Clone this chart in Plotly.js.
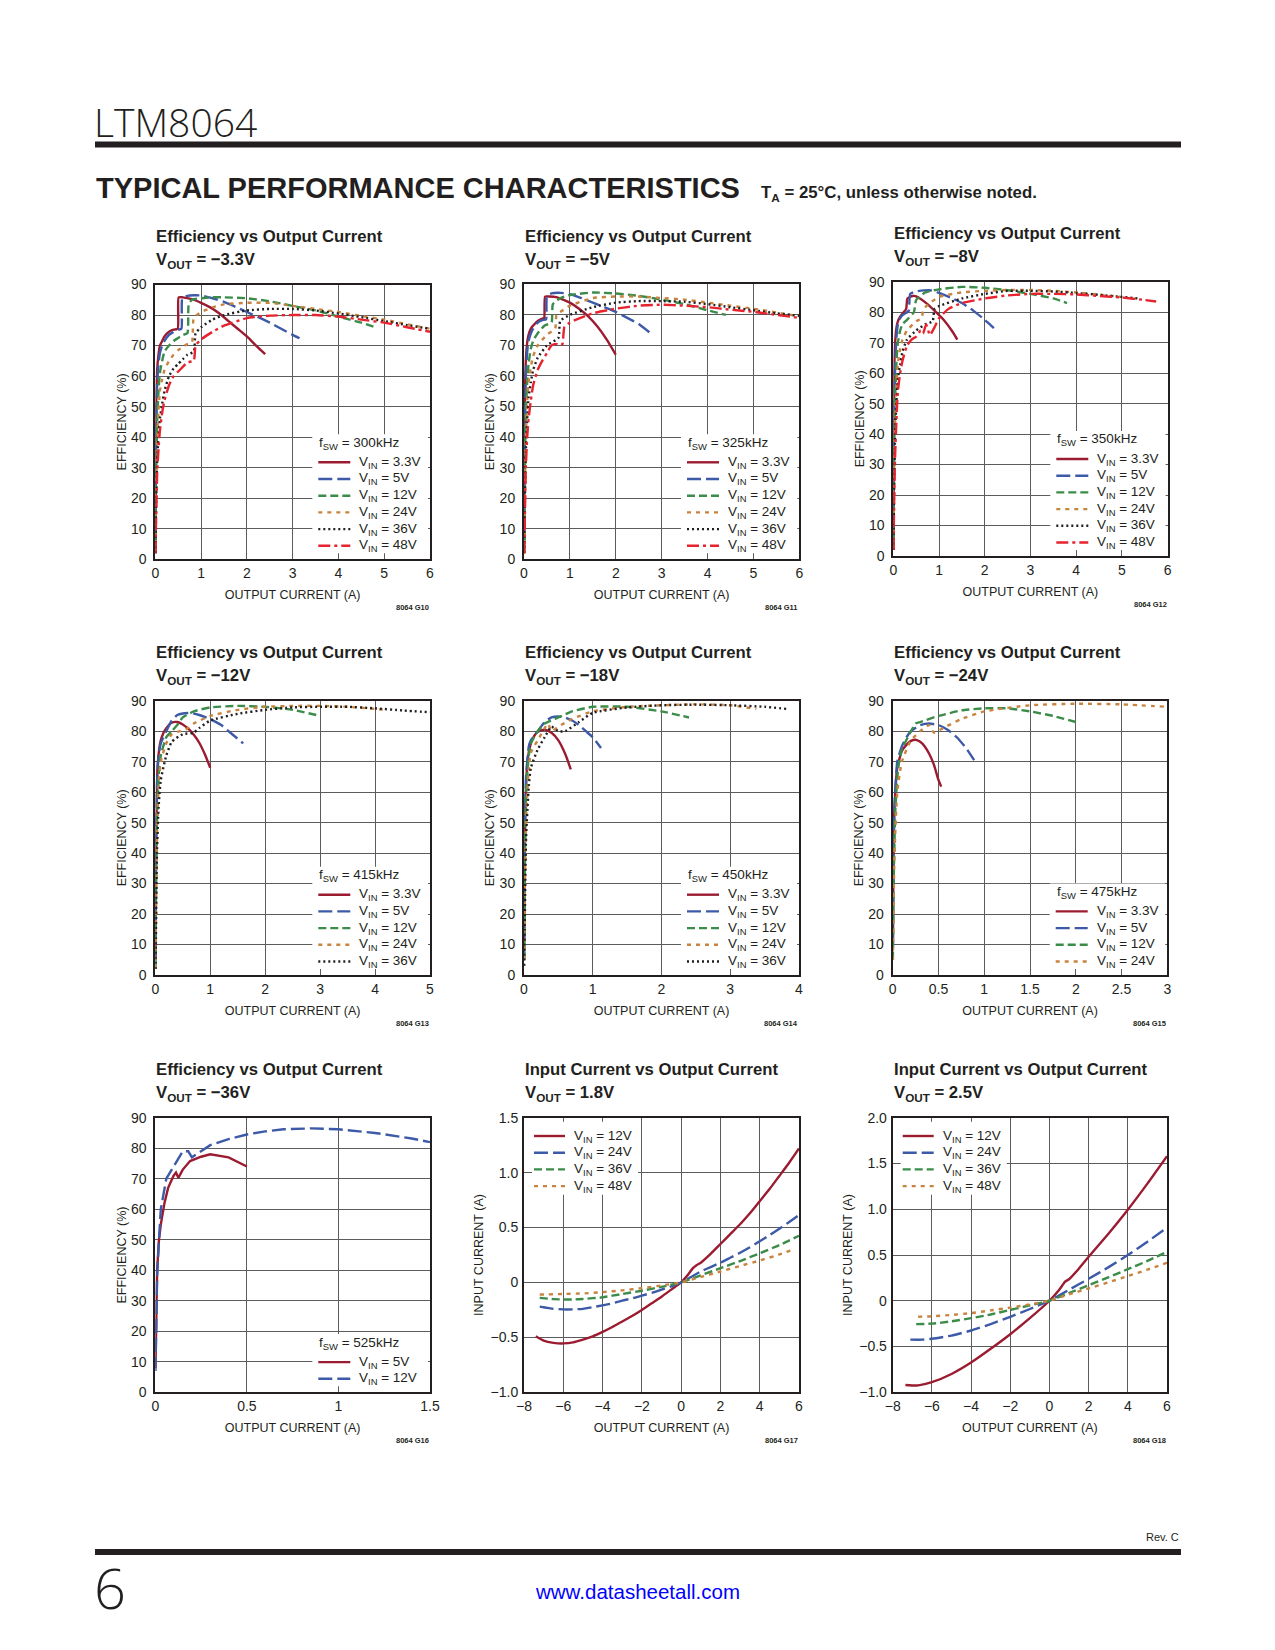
<!DOCTYPE html>
<html><head><meta charset="utf-8">
<script src="https://cdn.plot.ly/plotly-3.0.1.min.js"></script>
<style>html,body{margin:0;padding:0;background:#fff}#chart{width:1275px;height:1650px}</style>
</head><body><div id="chart"></div>
<script>
// ---------------- DATA ----------------
// Legend labels
const eff6Labels = ['V<sub>IN</sub> = 3.3V','V<sub>IN</sub> = 5V','V<sub>IN</sub> = 12V','V<sub>IN</sub> = 24V','V<sub>IN</sub> = 36V','V<sub>IN</sub> = 48V'];
const eff5Labels = ['V<sub>IN</sub> = 3.3V','V<sub>IN</sub> = 5V','V<sub>IN</sub> = 12V','V<sub>IN</sub> = 24V','V<sub>IN</sub> = 36V'];
const eff4Labels = ['V<sub>IN</sub> = 3.3V','V<sub>IN</sub> = 5V','V<sub>IN</sub> = 12V','V<sub>IN</sub> = 24V'];
const eff2Labels = ['V<sub>IN</sub> = 5V','V<sub>IN</sub> = 12V'];
const inLabels = ['V<sub>IN</sub> = 12V','V<sub>IN</sub> = 24V','V<sub>IN</sub> = 36V','V<sub>IN</sub> = 48V'];
const voutLabels = ['−3.3V','−5V','−8V','−12V','−18V','−24V','−36V','1.8V','2.5V'];
const fswLabels = ['300kHz','325kHz','350kHz','415kHz','450kHz','475kHz','525kHz'];
const figIds = ['8064 G10','8064 G11','8064 G12','8064 G13','8064 G14','8064 G15','8064 G16','8064 G17','8064 G18'];
const in17TickVals = [-1,-0.5,0,0.5,1,1.5];
const in17TickText = ['−1.0','−0.5','0','0.5','1.0','1.5'];
const in18TickVals = [-1,-0.5,0,0.5,1,1.5,2];
const in18TickText = ['−1.0','−0.5','0','0.5','1.0','1.5','2.0'];

// G10  VOUT = -3.3V
const g10_x_v33 = [0.005,0.01,0.02,0.04,0.07,0.1,0.15,0.2,0.3,0.4,0.49,0.51,0.6,0.8,1.0,1.2,1.4,1.6,1.8,2.0,2.2,2.4];
const g10_y_v33 = [5,30,50,62,67,70,71.5,73,74.5,75.2,75.5,85.8,85.8,85.2,84,82.5,80.5,78,75.5,73,70,67.2];
const g10_x_v5 = [0.005,0.01,0.02,0.04,0.07,0.1,0.15,0.2,0.3,0.4,0.5,0.57,0.59,0.7,0.85,1.0,1.25,1.5,1.75,2.0,2.25,2.5,2.75,3.0,3.15];
const g10_y_v5 = [3,25,42,57,64,67.5,70,71.5,73.5,74.5,75.2,75.5,85.5,86.3,86.5,86.4,85.5,84.3,82.7,81,79.3,77.5,75.5,73.5,72.4];
const g10_x_v12 = [0.005,0.01,0.02,0.04,0.07,0.1,0.15,0.2,0.3,0.4,0.5,0.6,0.7,0.73,0.8,1.0,1.25,1.5,2.0,2.5,3.0,3.5,4.0,4.5,4.8];
const g10_y_v12 = [2,15,30,45,55,61,65,68,70,71.5,72.5,73.5,74,83.5,85,85.5,85.8,85.8,85.5,84.5,83,81.5,79.5,77.5,76];
const g10_x_v24 = [0.005,0.01,0.02,0.04,0.07,0.1,0.15,0.2,0.3,0.4,0.5,0.6,0.7,0.8,0.84,1.0,1.25,1.5,2.0,2.5,3.0,3.5,4.0,4.5,5.0,5.5,6.0];
const g10_y_v24 = [2,12,25,38,48,55,59,62,65,67,68.5,69.5,70.5,71,79,81,82.5,83.5,84,84,83,82,81,79.7,78.5,77,75.5];
const g10_x_v36 = [0.005,0.01,0.02,0.04,0.07,0.1,0.15,0.2,0.3,0.4,0.5,0.6,0.7,0.84,0.88,1.0,1.25,1.5,2.0,2.5,3.0,3.5,4.0,4.5,5.0,5.5,6.0];
const g10_y_v36 = [2,10,20,32,40,46,51,55,60,62.5,64,65.5,67,68,74,76,78.5,80,81.5,82,82,81.5,80.5,79.3,78,76.7,75.5];
const g10_x_v48 = [0.005,0.01,0.02,0.04,0.07,0.1,0.15,0.2,0.3,0.4,0.5,0.6,0.7,0.84,0.88,1.0,1.25,1.5,2.0,2.5,3.0,3.5,4.0,4.5,5.0,5.5,6.0];
const g10_y_v48 = [2,8,15,28,36,42,48,52,57,60,61.5,63,64.5,65,70,72,74.5,76.5,79,79.8,80,80,79.5,78.5,77.5,76,74.5];

// G11  VOUT = -5V
const g11_x_v33 = [0.005,0.01,0.02,0.04,0.07,0.1,0.15,0.2,0.3,0.4,0.44,0.46,0.55,0.7,0.85,1.0,1.2,1.4,1.6,1.8,2.0];
const g11_y_v33 = [5,30,52,65,71,73.5,75.5,76.5,78,78.8,79,86,86,85.8,85,84,82,79.5,76.2,72,67];
const g11_x_v5 = [0.005,0.01,0.02,0.04,0.07,0.1,0.15,0.2,0.3,0.4,0.48,0.5,0.6,0.8,1.0,1.25,1.5,1.75,2.0,2.25,2.5,2.8];
const g11_y_v5 = [3,25,42,60,68,71.5,74,75.5,77.5,78.3,78.5,86,87,87.2,86.8,85.5,84,82.5,81,79,77,73.5];
const g11_x_v12 = [0.005,0.01,0.02,0.04,0.07,0.1,0.15,0.2,0.3,0.45,0.6,0.63,0.8,1.0,1.5,2.0,2.5,3.0,3.5,4.0,4.4];
const g11_y_v12 = [2,15,32,48,58,64,69,71.5,74,76.5,77.5,83.5,85.5,86.5,87.3,87,86.2,85,83.5,81.5,80];
const g11_x_v24 = [0.005,0.01,0.02,0.04,0.07,0.1,0.15,0.2,0.3,0.5,0.68,0.71,0.9,1.0,1.5,2.0,2.5,3.0,3.5,4.0,4.5,5.0,5.5,6.0];
const g11_y_v24 = [2,12,25,40,52,58,63,66.5,70,73.5,75.5,80,82,83,85.5,86,86,85.5,85,84,83,82,80.8,79.5];
const g11_x_v36 = [0.005,0.01,0.02,0.04,0.07,0.1,0.15,0.2,0.3,0.5,0.75,0.79,1.0,1.5,2.0,2.5,3.0,3.5,4.0,4.5,5.0,5.5,6.0];
const g11_y_v36 = [2,10,20,35,46,53,58,62,66,70,72.5,78,80,82.5,84,84.5,84.5,84.3,83.5,82.5,81.5,80.5,79.7];
const g11_x_v48 = [0.005,0.01,0.02,0.04,0.07,0.1,0.15,0.2,0.3,0.4,0.5,0.6,0.7,0.8,0.84,0.88,1.0,1.5,2.0,2.5,3.0,3.5,4.0,4.5,5.0,5.5,6.0];
const g11_y_v48 = [2,8,15,30,40,46,52,57,62,65,67.5,70,70.5,70,70.5,76,77.5,80.5,82,83,83.3,83,82.5,81.7,81,80,79];

// G12  VOUT = -8V
const g12_x_v33 = [0.005,0.01,0.02,0.04,0.07,0.1,0.15,0.2,0.28,0.31,0.42,0.5,0.7,0.9,1.1,1.3,1.4];
const g12_y_v33 = [5,35,60,70,75,77,78.5,79.5,81,84.5,85.3,85.2,83.2,80.5,77.5,73.5,71];
const g12_x_v5 = [0.005,0.01,0.02,0.04,0.07,0.1,0.15,0.2,0.3,0.34,0.37,0.5,0.8,1.0,1.25,1.5,1.75,2.0,2.2];
const g12_y_v5 = [3,25,45,62,72,76,78,79,80,80.5,86,86.8,87.2,86.3,84.8,83,80.5,77.5,74.8];
const g12_x_v12 = [0.005,0.01,0.02,0.04,0.07,0.1,0.15,0.2,0.3,0.45,0.5,0.7,1.0,1.5,2.0,2.5,3.0,3.5,3.8];
const g12_y_v12 = [2,15,35,52,64,70,74,76,77.5,80,84,86.5,87.5,88.3,88,87.2,86,84.5,83];
const g12_x_v24 = [0.005,0.01,0.02,0.04,0.07,0.1,0.15,0.2,0.3,0.5,0.62,0.66,0.8,1.0,1.5,2.0,2.5,3.0,3.5,4.0,4.5,5.0];
const g12_y_v24 = [2,12,30,45,56,63,68,71,74,77,78,81,83,85,86.5,87,87.3,87.3,87,86.5,85.8,85];
const g12_x_v36 = [0.005,0.01,0.02,0.04,0.07,0.1,0.15,0.2,0.3,0.5,0.7,0.86,0.9,1.0,1.5,2.0,2.5,3.0,3.5,4.0,4.5,5.0,5.35];
const g12_y_v36 = [2,10,25,40,51,58,63,67,71,74,76,77,81,82,84.5,86,87,87,86.8,86.3,85.7,85,84.5];
const g12_x_v48 = [0.005,0.01,0.02,0.04,0.07,0.1,0.15,0.2,0.3,0.4,0.5,0.6,0.65,0.72,0.8,0.9,1.0,1.2,1.5,2.0,2.5,3.0,3.5,4.0,4.5,5.0,5.5,5.75];
const g12_y_v48 = [2,8,20,33,45,54,60,64,69,71,72,74,73,76,72.5,75,78,81,83,84.5,85.5,86,86,85.8,85.3,84.8,84,83.5];

// G13  VOUT = -12V
const g13_x_v33 = [0.005,0.01,0.02,0.04,0.07,0.1,0.15,0.2,0.3,0.4,0.5,0.6,0.7,0.8,0.9,1.0];
const g13_y_v33 = [5,30,50,68,74,77,79.5,81,82.8,83,82.2,80.8,78.8,76.2,72.5,68];
const g13_x_v5 = [0.005,0.01,0.02,0.03,0.06,0.1,0.2,0.3,0.4,0.5,0.65,0.8,1.0,1.2,1.4,1.6];
const g13_y_v5 = [5,30,52,62,72,76,80,83.5,85.3,85.8,86,85.3,84,82,79,76];
const g13_x_v12 = [0.005,0.01,0.02,0.03,0.06,0.1,0.2,0.3,0.4,0.5,0.7,1.0,1.5,2.0,2.5,3.0];
const g13_y_v12 = [3,20,40,50,65,72,78,80,82,84.5,86.5,87.8,88.3,88,87,85];
const g13_x_v24 = [0.005,0.01,0.02,0.03,0.06,0.1,0.2,0.3,0.45,0.55,0.7,1.0,1.5,2.0,2.5,3.0,3.5,4.0,4.2];
const g13_y_v24 = [2,15,32,45,62,70,76,79,80,80.5,82.5,85,87,88,88.3,88.3,88,87.3,87];
const g13_x_v36 = [0.005,0.01,0.02,0.03,0.06,0.1,0.2,0.3,0.5,0.7,0.8,1.0,1.5,2.0,2.5,3.0,3.5,4.0,4.5,5.0];
const g13_y_v36 = [2,10,28,40,55,64,72,76.5,79,79.5,81,83.5,85.7,87,87.8,88,88,87.5,86.8,86.2];

// G14  VOUT = -18V
const g14_x_v33 = [0.003,0.01,0.02,0.05,0.1,0.15,0.2,0.3,0.4,0.5,0.6,0.68];
const g14_y_v33 = [10,40,55,70,76,78.5,79.8,80.5,79.5,77,72.5,67.5];
const g14_x_v5 = [0.003,0.01,0.03,0.07,0.1,0.2,0.3,0.4,0.5,0.6,0.7,0.8,0.9,1.0,1.12];
const g14_y_v5 = [5,40,65,75,77,80,83,84.5,84.8,84.5,83.5,82,80,78,74.5];
const g14_x_v12 = [0.003,0.01,0.03,0.07,0.1,0.2,0.3,0.5,0.7,1.0,1.5,2.0,2.4];
const g14_y_v12 = [5,30,60,72,76,80,82.5,84.5,86.5,88,88,86.5,84.5];
const g14_x_v24 = [0.003,0.01,0.03,0.07,0.1,0.2,0.3,0.35,0.4,0.5,0.7,1.0,1.5,2.0,2.5,3.0,3.38];
const g14_y_v24 = [5,25,50,68,73,77,81,82.5,80,81.5,84,86.5,88,88.5,88.8,88.5,87.3];
const g14_x_v36 = [0.003,0.01,0.03,0.07,0.1,0.2,0.3,0.4,0.5,0.6,0.8,1.0,1.5,2.0,2.5,3.0,3.5,3.82];
const g14_y_v36 = [3,15,45,62,68,74,78,81.5,80,80,83,86,87.8,88.5,88.7,88.5,88,87.3];

// G15  VOUT = -24V
const g15_x_v33 = [0.002,0.01,0.02,0.05,0.1,0.15,0.2,0.25,0.3,0.35,0.4,0.45,0.5,0.53];
const g15_y_v33 = [10,45,55,68,73.5,75.5,76.8,77.2,76.5,75,72.5,69,64,61.8];
const g15_x_v5 = [0.002,0.01,0.02,0.05,0.1,0.15,0.2,0.3,0.4,0.5,0.6,0.7,0.8,0.89];
const g15_y_v5 = [10,40,55,70,75,78,80,82,82.5,82,80.5,78,74.5,70.5];
const g15_x_v12 = [0.002,0.01,0.03,0.06,0.1,0.2,0.25,0.3,0.5,0.75,1.0,1.25,1.5,1.75,2.0];
const g15_y_v12 = [5,30,55,68,74,80,82.5,83,85,86.8,87.5,87.5,86.5,85,83];
const g15_x_v24 = [0.002,0.01,0.02,0.05,0.1,0.2,0.3,0.4,0.45,0.55,0.75,1.0,1.5,2.0,2.5,3.0];
const g15_y_v24 = [5,25,40,60,70,77,80,82,79.5,81,84,86.5,88.5,89,88.8,88];

// G16  VOUT = -36V
const g16_x_v5 = [0.001,0.005,0.01,0.02,0.03,0.05,0.07,0.1,0.113,0.126,0.15,0.19,0.25,0.3,0.4,0.5];
const g16_y_v5 = [8,25,40,50,55,62,67,71,72,70.3,73,75.8,77.2,78,77,74];
const g16_x_v12 = [0.001,0.005,0.01,0.02,0.03,0.06,0.1,0.15,0.18,0.2,0.3,0.4,0.5,0.6,0.7,0.85,1.0,1.2,1.4,1.5];
const g16_y_v12 = [7,25,38,50,60,70,74,79,79,77,81,83,84.5,85.5,86.2,86.5,86.2,85,83.2,82];

// G17  Input current, VOUT = 1.8V
const g17_x_v12 = [-7.4,-7.0,-6.5,-6.0,-5.5,-5.0,-4.5,-4.0,-3.5,-3.0,-2.5,-2.0,-1.5,-1.0,-0.5,0,0.3,0.6,0.8,1.0,1.5,2.0,2.5,3.0,3.5,4.0,4.5,5.0,5.5,6.0];
const g17_y_v12 = [-0.49,-0.53,-0.55,-0.555,-0.545,-0.52,-0.49,-0.45,-0.405,-0.355,-0.305,-0.25,-0.19,-0.13,-0.065,0,0.06,0.13,0.16,0.18,0.26,0.35,0.44,0.53,0.63,0.74,0.85,0.97,1.09,1.22];
const g17_x_v24 = [-7.2,-6.5,-6.0,-5.5,-5.0,-4.5,-4.0,-3.5,-3.0,-2.5,-2.0,-1.5,-1.0,-0.5,0,0.5,1.0,1.5,2.0,2.5,3.0,3.5,4.0,4.5,5.0,5.5,6.0];
const g17_y_v24 = [-0.22,-0.24,-0.245,-0.245,-0.24,-0.225,-0.208,-0.19,-0.165,-0.145,-0.12,-0.095,-0.065,-0.035,0,0.05,0.1,0.14,0.18,0.225,0.27,0.32,0.375,0.43,0.49,0.55,0.615];
const g17_x_v36 = [-7.2,-6.5,-6.0,-5.5,-5.0,-4.0,-3.0,-2.0,-1.0,0,1.0,2.0,3.0,4.0,5.0,6.0];
const g17_y_v36 = [-0.14,-0.152,-0.155,-0.155,-0.15,-0.135,-0.105,-0.075,-0.04,0,0.065,0.13,0.195,0.265,0.34,0.425];
const g17_x_v48 = [-7.2,-6.0,-5.0,-4.0,-3.0,-2.0,-1.0,0,1.0,2.0,3.0,4.0,5.0,5.8];
const g17_y_v48 = [-0.11,-0.105,-0.1,-0.088,-0.072,-0.052,-0.027,0,0.05,0.1,0.15,0.2,0.255,0.305];

// G18  Input current, VOUT = 2.5V
const g18_x_v12 = [-7.35,-6.7,-6.0,-5.0,-4.0,-3.0,-2.0,-1.0,0,0.5,0.8,1.0,1.5,2.0,3.0,4.0,5.0,6.0];
const g18_y_v12 = [-0.92,-0.925,-0.89,-0.8,-0.675,-0.525,-0.365,-0.19,0,0.12,0.21,0.235,0.35,0.48,0.73,0.995,1.28,1.58];
const g18_x_v24 = [-7.1,-6.5,-6.0,-5.0,-4.0,-3.0,-2.0,-1.0,0,1.0,2.0,3.0,4.0,5.0,6.0];
const g18_y_v24 = [-0.425,-0.425,-0.415,-0.38,-0.325,-0.255,-0.175,-0.09,0,0.12,0.24,0.365,0.5,0.645,0.8];
const g18_x_v36 = [-6.8,-6.0,-5.0,-4.0,-3.0,-2.0,-1.0,0,1.0,2.0,3.0,4.0,5.0,6.0];
const g18_y_v36 = [-0.255,-0.25,-0.225,-0.19,-0.15,-0.1,-0.05,0,0.085,0.17,0.255,0.345,0.435,0.535];
const g18_x_v48 = [-6.7,-6.0,-5.0,-4.0,-3.0,-2.0,-1.0,0,1.0,2.0,3.0,4.0,5.0,6.0];
const g18_y_v48 = [-0.175,-0.17,-0.155,-0.135,-0.105,-0.075,-0.04,0,0.07,0.135,0.2,0.27,0.34,0.415];

// ---------------- STYLE / LAYOUT ----------------
const W = 1275, H = 1650;
const fx = p => p / W;
const fy = p => 1 - p / H;
const SANS = "'Liberation Sans', Arial, Helvetica, sans-serif";
const LIGHT = "'Open Sans', 'Lato', 'Liberation Sans', sans-serif";
const INK = '#231f20';
const GRID = '#5c5c5c';
const STY = [
  {color:'#9b1b30', dash:'solid'},
  {color:'#3d5aa8', dash:'14px,5px'},
  {color:'#3a8c48', dash:'8px,4px'},
  {color:'#c8843f', dash:'4px,5px'},
  {color:'#231f20', dash:'2px,3px'},
  {color:'#e6232e', dash:'12px,4px,3px,4px'}
];
const LW = 2.4;

const EFF = 'EFFICIENCY (%)', INC = 'INPUT CURRENT (A)';
const CHARTS = [
  {box:{l:155.3,r:430,t:284.5,b:559.3}, title:'Efficiency vs Output Current', xr:[0,6], xd:1, yr:[0,90], yd:10, yt:EFF, fsw:0, leg:'br',
   s:[[g10_x_v33,g10_y_v33],[g10_x_v5,g10_y_v5],[g10_x_v12,g10_y_v12],[g10_x_v24,g10_y_v24],[g10_x_v36,g10_y_v36],[g10_x_v48,g10_y_v48]], labels:eff6Labels, sty:[0,1,2,3,4,5]},
  {box:{l:524,r:799.3,t:284.3,b:559.3}, title:'Efficiency vs Output Current', xr:[0,6], xd:1, yr:[0,90], yd:10, yt:EFF, fsw:1, leg:'br',
   s:[[g11_x_v33,g11_y_v33],[g11_x_v5,g11_y_v5],[g11_x_v12,g11_y_v12],[g11_x_v24,g11_y_v24],[g11_x_v36,g11_y_v36],[g11_x_v48,g11_y_v48]], labels:eff6Labels, sty:[0,1,2,3,4,5]},
  {box:{l:893.3,r:1167.6,t:281.7,b:556}, title:'Efficiency vs Output Current', xr:[0,6], xd:1, yr:[0,90], yd:10, yt:EFF, fsw:2, leg:'br',
   s:[[g12_x_v33,g12_y_v33],[g12_x_v5,g12_y_v5],[g12_x_v12,g12_y_v12],[g12_x_v24,g12_y_v24],[g12_x_v36,g12_y_v36],[g12_x_v48,g12_y_v48]], labels:eff6Labels, sty:[0,1,2,3,4,5]},
  {box:{l:155.3,r:430,t:700.7,b:975}, title:'Efficiency vs Output Current', xr:[0,5], xd:1, yr:[0,90], yd:10, yt:EFF, fsw:3, leg:'br',
   s:[[g13_x_v33,g13_y_v33],[g13_x_v5,g13_y_v5],[g13_x_v12,g13_y_v12],[g13_x_v24,g13_y_v24],[g13_x_v36,g13_y_v36]], labels:eff5Labels, sty:[0,1,2,3,4]},
  {box:{l:524,r:799,t:700.7,b:975}, title:'Efficiency vs Output Current', xr:[0,4], xd:1, yr:[0,90], yd:10, yt:EFF, fsw:4, leg:'br',
   s:[[g14_x_v33,g14_y_v33],[g14_x_v5,g14_y_v5],[g14_x_v12,g14_y_v12],[g14_x_v24,g14_y_v24],[g14_x_v36,g14_y_v36]], labels:eff5Labels, sty:[0,1,2,3,4]},
  {box:{l:892.7,r:1167.3,t:700.7,b:975}, title:'Efficiency vs Output Current', xr:[0,3], xd:0.5, yr:[0,90], yd:10, yt:EFF, fsw:5, leg:'br',
   s:[[g15_x_v33,g15_y_v33],[g15_x_v5,g15_y_v5],[g15_x_v12,g15_y_v12],[g15_x_v24,g15_y_v24]], labels:eff4Labels, sty:[0,1,2,3]},
  {box:{l:155.3,r:430,t:1117.7,b:1392.3}, title:'Efficiency vs Output Current', xr:[0,1.5], xd:0.5, yr:[0,90], yd:10, yt:EFF, fsw:6, leg:'br', linear:true,
   s:[[g16_x_v5,g16_y_v5],[g16_x_v12,g16_y_v12]], labels:eff2Labels, sty:[0,1]},
  {box:{l:524,r:799,t:1117.7,b:1392.3}, title:'Input Current vs Output Current', xr:[-8,6], xd:2, yr:[-1,1.5], yd:0.5, yt:INC, fsw:-1, leg:'tl',
   tv:in17TickVals, tt:in17TickText,
   s:[[g17_x_v12,g17_y_v12],[g17_x_v24,g17_y_v24],[g17_x_v36,g17_y_v36],[g17_x_v48,g17_y_v48]], labels:inLabels, sty:[0,1,2,3]},
  {box:{l:892.7,r:1167,t:1117.7,b:1392.3}, title:'Input Current vs Output Current', xr:[-8,6], xd:2, yr:[-1,2], yd:0.5, yt:INC, fsw:-1, leg:'tl',
   tv:in18TickVals, tt:in18TickText,
   s:[[g18_x_v12,g18_y_v12],[g18_x_v24,g18_y_v24],[g18_x_v36,g18_y_v36],[g18_x_v48,g18_y_v48]], labels:inLabels, sty:[0,1,2,3]}
];

const data = [], shapes = [], annotations = [];
const layout = {
  width: W, height: H, margin:{l:0,r:0,t:0,b:0}, paper_bgcolor:'#ffffff', plot_bgcolor:'#ffffff',
  showlegend:false, font:{family:SANS, color:INK}
};

function txt(text, xpx, basePx, size, o) {
  o = o || {};
  return {xref:'paper', yref:'paper', x:fx(xpx), y:fy(basePx - 0.35*size), text:text, showarrow:false,
    xanchor:o.xa || 'left', yanchor:'middle', borderpad:0,
    font:{family:o.family || SANS, size:size, color:o.color || INK, weight:o.weight || 'normal'}};
}
const stripTags = s => s.replace(/<[^>]+>/g, '');

const tickFont = {family:SANS, size:14, color:INK};
const axTitleFont = {family:SANS, size:12.5, color:INK};
const LEGF = 13.5;

CHARTS.forEach((c, i) => {
  const n = i === 0 ? '' : String(i + 1);
  const B = c.box;
  const isEff = c.yt === EFF;
  const xa = {
    domain:[fx(B.l), fx(B.r)], anchor:'y' + n, range:c.xr, dtick:c.xd, tick0:0,
    showgrid:true, gridcolor:GRID, gridwidth:1, zeroline:false,
    showline:true, mirror:true, linecolor:INK, linewidth:2, ticks:'',
    tickfont:tickFont, ticklabelstandoff:0, fixedrange:true,
    title:{text:'OUTPUT CURRENT (A)', font:axTitleFont, standoff:10}
  };
  const ya = {
    domain:[fy(B.b), fy(B.t)], anchor:'x' + n, range:c.yr, dtick:c.yd, tick0:0,
    showgrid:true, gridcolor:GRID, gridwidth:1, zeroline:false,
    showline:true, mirror:true, linecolor:INK, linewidth:2, ticks:'',
    tickfont:tickFont, ticklabelstandoff:isEff ? 4 : 1, fixedrange:true,
    title:{text:c.yt, font:axTitleFont, standoff:isEff ? 2 : 4}
  };
  if (c.tv) { ya.tickmode = 'array'; ya.tickvals = c.tv; ya.ticktext = c.tt; }
  layout['xaxis' + n] = xa;
  layout['yaxis' + n] = ya;

  c.s.forEach((sr, k) => {
    const st = STY[c.sty[k]];
    data.push({type:'scatter', mode:'lines', x:sr[0], y:sr[1], name:stripTags(c.labels[k]),
      xaxis:'x' + n, yaxis:'y' + n, hoverinfo:'skip', showlegend:false,
      line:{color:st.color, dash:st.dash, width:LW, shape:c.linear ? 'linear' : 'spline', smoothing:0.5}});
  });

  // chart titles
  annotations.push(txt(c.title, B.l, B.t - 42, 16.7, {weight:'bold'}));
  annotations.push(txt('V<sub>OUT</sub> = ' + voutLabels[i], B.l, B.t - 18, 16.7, {weight:'bold'}));
  // figure id
  annotations.push(txt(figIds[i], B.r, B.b + 51, 7.5, {xa:'right', weight:'bold'}));

  // legend
  const nE = c.labels.length, step = 16.7;
  let ys = [], sx0, sx1, tx, bx0, bx1, by0, by1;
  if (c.leg === 'br') {
    const last = B.b - 13.5;
    for (let k = 0; k < nE; k++) ys.push(last - (nE - 1 - k) * step);
    const fswY = ys[0] - 19;
    sx0 = B.l + 163; sx1 = B.l + 195; tx = B.l + 203;
    bx0 = B.l + 157; bx1 = B.r - 2; by0 = fswY - 9; by1 = B.b - 6;
    shapes.push({type:'rect', xref:'paper', yref:'paper', x0:fx(bx0), x1:fx(bx1), y0:fy(by1), y1:fy(by0),
      fillcolor:'#ffffff', line:{width:0}, layer:'above'});
    annotations.push(txt('f<sub>SW</sub> = ' + fswLabels[c.fsw], sx0, fswY + 0.35*LEGF, LEGF));
  } else {
    for (let k = 0; k < nE; k++) ys.push(B.t + 18.3 + k * step);
    sx0 = B.l + 10; sx1 = B.l + 41; tx = B.l + 49;
    bx0 = B.l + 8; bx1 = B.l + 114; by0 = B.t + 4; by1 = B.t + 77;
    shapes.push({type:'rect', xref:'paper', yref:'paper', x0:fx(bx0), x1:fx(bx1), y0:fy(by1), y1:fy(by0),
      fillcolor:'#ffffff', line:{width:0}, layer:'above'});
  }
  ys.forEach((yy, k) => {
    const st = STY[c.sty[k]];
    shapes.push({type:'line', xref:'paper', yref:'paper', x0:fx(sx0), x1:fx(sx1), y0:fy(yy), y1:fy(yy),
      line:{color:st.color, dash:st.dash, width:LW}, layer:'above'});
    annotations.push(txt(c.labels[k], tx, yy + 0.35*LEGF, LEGF));
  });
});

// page header / footer
shapes.push({type:'rect', xref:'paper', yref:'paper', x0:fx(95), x1:fx(1181), y0:fy(147.5), y1:fy(141.5), fillcolor:INK, line:{width:0}});
shapes.push({type:'rect', xref:'paper', yref:'paper', x0:fx(95), x1:fx(1181), y0:fy(1555), y1:fy(1549), fillcolor:INK, line:{width:0}});
annotations.push(txt('LTM8064', 93, 135, 39, {family:LIGHT, weight:300}));
annotations.push(txt('TYPICAL PERFORMANCE CHARACTERISTICS', 95, 198, 29, {weight:'bold'}));
annotations.push(txt('T<sub>A</sub> = 25°C, unless otherwise noted.', 760, 199, 16.8, {weight:'bold'}));
annotations.push(txt('Rev. C', 1180, 1541, 11, {xa:'right'}));
annotations.push(txt('6', 93, 1607, 56, {family:LIGHT, weight:300}));
annotations.push(txt('www.datasheetall.com', 637.5, 1599, 20.5, {xa:'center', color:'#0000ff'}));

layout.shapes = shapes;
layout.annotations = annotations;

Plotly.newPlot('chart', data, layout, {staticPlot:true, displayModeBar:false});
</script></body></html>
